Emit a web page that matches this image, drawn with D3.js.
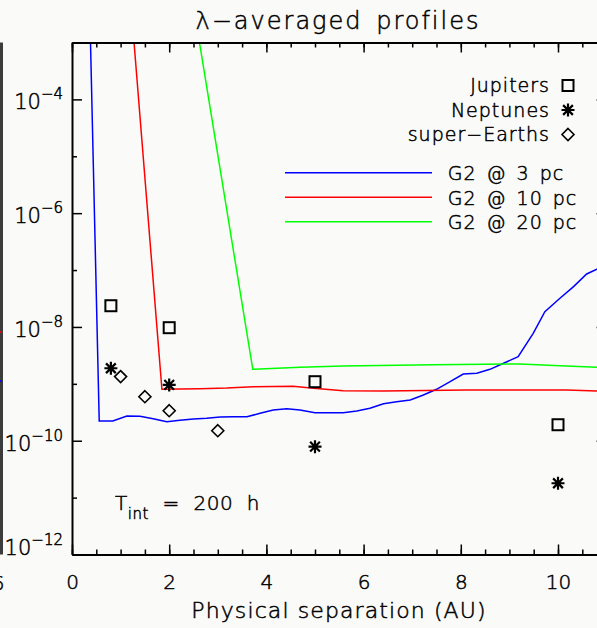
<!DOCTYPE html>
<html>
<head>
<meta charset="utf-8">
<script src="https://cdn.jsdelivr.net/npm/d3@7"></script>
<style>
  body { margin: 0; background: #fafaf9; }
  svg { display: block; font-family: "DejaVu Sans", sans-serif; font-weight: 200; }
  svg text { fill: #000; stroke: #000; stroke-width: 0.5px; }
</style>
</head>
<body>
<div id="chart"></div>
<script>
// Contrast curves (separation in AU, contrast)
const blueSep = [0.3, 0.56, 0.84, 1.13, 1.40, 1.67, 1.95, 2.22, 2.50, 2.77, 3.05, 3.32, 3.60, 3.87, 4.14, 4.42, 4.69, 5.00, 5.58, 5.86, 6.13, 6.41, 6.68, 6.96, 7.23, 7.50, 7.78, 8.05, 8.33, 8.60, 8.88, 9.18, 9.49, 9.73, 10.04, 10.32, 10.59, 10.80, 11.0];
const blueContrast = [1, 2.22e-10, 2.22e-10, 2.72e-10, 2.69e-10, 2.44e-10, 2.16e-10, 2.29e-10, 2.41e-10, 2.48e-10, 2.61e-10, 2.64e-10, 2.64e-10, 3.03e-10, 3.47e-10, 3.66e-10, 3.47e-10, 3.11e-10, 3.11e-10, 3.33e-10, 3.72e-10, 4.48e-10, 4.85e-10, 5.20e-10, 6.37e-10, 8.02e-10, 1.09e-9, 1.49e-9, 1.53e-9, 1.80e-9, 2.30e-9, 3.00e-9, 7.73e-9, 1.85e-8, 3.19e-8, 5.11e-8, 8.53e-8, 1.03e-7, 1.17e-7];

const redSep = [1.0, 1.85, 2.63, 3.18, 3.73, 4.55, 4.97, 5.58, 6.41, 8.12, 10.18, 10.80, 11.0];
const redContrast = [0.87, 8.02e-10, 8.22e-10, 8.45e-10, 8.91e-10, 9.06e-10, 8.36e-10, 7.57e-10, 7.48e-10, 7.80e-10, 7.80e-10, 7.48e-10, 7.40e-10];

const greenSep = [2.05, 3.72, 4.69, 5.58, 7.43, 9.22, 10.04, 10.80, 11.0];
const greenContrast = [1, 1.80e-9, 1.95e-9, 2.06e-9, 2.17e-9, 2.23e-9, 2.08e-9, 1.95e-9, 1.95e-9];

const curveNames = ["G2 @ 3 pc", "G2 @ 10 pc", "G2 @ 20 pc"];
const curveColours = ["#0000ff", "#ff0000", "#00ff00"];

// Planets
const jupiterSep = [0.8, 2, 5, 10];
const jupiterContrast = [2.36e-8, 9.7e-9, 1.09e-9, 1.91e-10];
const neptuneSep = [0.8, 2, 5, 10];
const neptuneContrast = [1.88e-9, 9.55e-10, 7.85e-11, 1.79e-11];
const earthSep = [1.0, 1.5, 2, 3];
const earthContrast = [1.34e-9, 5.94e-10, 3.37e-10, 1.50e-10];
const planetNames = ["Jupiters", "Neptunes", "super\u2212Earths"];

// Axis ticks
const xTicks = [0, 2, 4, 6, 8, 10];
const yTicks = [1e-12, 1e-10, 1e-8, 1e-6, 1e-4];
const yMinorTicks = [1e-11, 1e-9, 1e-7, 1e-5];

const width = 597, height = 628;

const svg = d3.select("#chart").append("svg")
    .attr("width", width)
    .attr("height", height);

svg.append("rect").attr("width", width).attr("height", height).attr("fill", "#fafaf9");

const x = d3.scaleLinear().domain([0, 11]).range([72, 606.6]);
const y = d3.scaleLog().domain([1e-12, 1e-3]).range([554.5, 42.5]);
const [plotLeft, plotRight] = x.range();
const [plotBottom, plotTop] = y.range();

// Bit of the neighbouring panel on the left edge
svg.append("rect").attr("x", 0).attr("y", plotTop).attr("width", 3).attr("height", plotBottom - plotTop).attr("fill", "#3c3c3c");
svg.append("line").attr("x1", 0).attr("x2", 2).attr("y1", 332).attr("y2", 332).attr("stroke", "#ff0000").attr("stroke-width", 1.5);
svg.append("line").attr("x1", 0).attr("x2", 2).attr("y1", 381).attr("y2", 381).attr("stroke", "#0000ff").attr("stroke-width", 1.5);
svg.append("text").attr("x", -2).attr("y", 590).attr("text-anchor", "middle").attr("font-size", 20).text("6");

// Clip the curves to the plot box
svg.append("clipPath").attr("id", "plotClip")
    .append("rect").attr("x", plotLeft).attr("y", plotTop).attr("width", plotRight - plotLeft).attr("height", plotBottom - plotTop);

const line = d3.line().x(d => x(d[0])).y(d => y(d[1]));
const curves = [
    d3.zip(blueSep, blueContrast),
    d3.zip(redSep, redContrast),
    d3.zip(greenSep, greenContrast)
];

const plot = svg.append("g").attr("clip-path", "url(#plotClip)");
curves.forEach((c, i) => {
    plot.append("path")
        .attr("d", line(c))
        .attr("fill", "none")
        .attr("stroke", curveColours[i])
        .attr("stroke-width", 1.5);
});

// Planet markers
function drawSquare(g, cx, cy, s) {
    g.append("rect").attr("x", cx - s / 2).attr("y", cy - s / 2).attr("width", s).attr("height", s)
        .attr("fill", "none").attr("stroke", "#000").attr("stroke-width", 2);
}
function drawStar(g, cx, cy, s) {
    const r = s / 2, d = r * 0.75;
    const p = `M${cx - r},${cy}L${cx + r},${cy}M${cx},${cy - r}L${cx},${cy + r}` +
              `M${cx - d},${cy - d}L${cx + d},${cy + d}M${cx - d},${cy + d}L${cx + d},${cy - d}`;
    g.append("path").attr("d", p).attr("stroke", "#000").attr("stroke-width", 2.2).attr("fill", "none");
}
function drawDiamond(g, cx, cy, s) {
    const r = s / 2;
    g.append("path").attr("d", `M${cx},${cy - r}L${cx + r},${cy}L${cx},${cy + r}L${cx - r},${cy}Z`)
        .attr("fill", "none").attr("stroke", "#000").attr("stroke-width", 1.6);
}
const markers = [drawSquare, drawStar, drawDiamond];
const markerSizes = [11, 13, 12];

jupiterSep.forEach((s, i) => drawSquare(plot, x(s), y(jupiterContrast[i]), markerSizes[0]));
neptuneSep.forEach((s, i) => drawStar(plot, x(s), y(neptuneContrast[i]), markerSizes[1]));
earthSep.forEach((s, i) => drawDiamond(plot, x(s), y(earthContrast[i]), markerSizes[2]));

// Axes: ticks point inward on all four sides
const axisStyle = g => {
    g.select(".domain").attr("stroke-width", 2);
    g.selectAll(".tick line").attr("stroke-width", 1.5);
    g.selectAll("text").attr("font-size", 20).attr("font-family", "DejaVu Sans");
};
const xMinor = d3.range(0, 11.01, 0.5);

svg.append("g").attr("transform", `translate(0,${plotBottom})`)
    .call(d3.axisBottom(x).tickValues(xTicks).tickSizeInner(-10).tickSizeOuter(0).tickPadding(20.5).tickFormat(d3.format("d")))
    .call(axisStyle);
svg.append("g").attr("transform", `translate(0,${plotBottom})`)
    .call(d3.axisBottom(x).tickValues(xMinor).tickSizeInner(-5).tickSizeOuter(0).tickFormat(""))
    .call(axisStyle).select(".domain").remove();
svg.append("g").attr("transform", `translate(0,${plotTop})`)
    .call(d3.axisTop(x).tickValues(xTicks).tickSizeInner(-10).tickSizeOuter(0).tickFormat(""))
    .call(axisStyle);
svg.append("g").attr("transform", `translate(0,${plotTop})`)
    .call(d3.axisTop(x).tickValues(xMinor).tickSizeInner(-5).tickSizeOuter(0).tickFormat(""))
    .call(axisStyle).select(".domain").remove();

svg.append("g").attr("transform", `translate(${plotLeft},0)`)
    .call(d3.axisLeft(y).tickValues(yTicks).tickSizeInner(-10).tickSizeOuter(0).tickFormat(""))
    .call(axisStyle);
svg.append("g").attr("transform", `translate(${plotLeft},0)`)
    .call(d3.axisLeft(y).tickValues(yMinorTicks).tickSizeInner(-5).tickSizeOuter(0).tickFormat(""))
    .call(axisStyle).select(".domain").remove();
svg.append("g").attr("transform", `translate(${plotRight},0)`)
    .call(d3.axisRight(y).tickValues(yTicks).tickSizeInner(-10).tickSizeOuter(0).tickFormat(""))
    .call(axisStyle);
svg.append("g").attr("transform", `translate(${plotRight},0)`)
    .call(d3.axisRight(y).tickValues(yMinorTicks).tickSizeInner(-5).tickSizeOuter(0).tickFormat(""))
    .call(axisStyle).select(".domain").remove();

// Y labels as 10 with a superscript exponent; the bottom one sits on the axis
yTicks.forEach(v => {
    const exp = Math.round(Math.log10(v));
    const base = y(v) + (v === y.domain()[0] ? 0.5 : 10);
    const t = svg.append("text")
        .attr("x", 63)
        .attr("y", base)
        .attr("text-anchor", "end")
        .attr("font-size", 21);
    t.append("tspan").text("10");
    t.append("tspan").attr("dy", -10).attr("font-size", 15).text("\u2212" + (-exp));
});

// Titles
svg.append("text").attr("x", 338).attr("y", 29).attr("text-anchor", "middle")
    .attr("font-size", 24).attr("letter-spacing", 2).attr("word-spacing", 4)
    .text("\u03bb\u2212averaged profiles");
svg.append("text").attr("x", 339).attr("y", 618).attr("text-anchor", "middle")
    .attr("font-size", 22).attr("letter-spacing", 1.1)
    .text("Physical separation (AU)");

// Integration time note
const tint = svg.append("text").attr("x", 115).attr("y", 510).attr("font-size", 20).attr("letter-spacing", 0.5)
    .style("white-space", "pre");
tint.append("tspan").text("T");
tint.append("tspan").attr("dy", 9).attr("font-size", 15).text("int");
tint.append("tspan").attr("dy", -9).text("  =  200  h");

// Planet legend, right aligned text with symbol after it
planetNames.forEach((name, i) => {
    const by = 92 + i * 24.5;
    svg.append("text").attr("x", 550).attr("y", by).attr("text-anchor", "end")
        .attr("font-size", 19).attr("letter-spacing", 1)
        .text(name);
    markers[i](svg, 568, by - 6.5, markerSizes[i]);
});

// Curve legend
curveNames.forEach((name, i) => {
    const ly = 172.7 + i * 24.5;
    svg.append("line").attr("x1", 285).attr("x2", 432).attr("y1", ly).attr("y2", ly)
        .attr("stroke", curveColours[i]).attr("stroke-width", 1.5);
    svg.append("text").attr("x", 447.7).attr("y", ly + 7.5)
        .attr("font-size", 19).attr("letter-spacing", 1).attr("word-spacing", 3)
        .text(name);
});
</script>
</body>
</html>
